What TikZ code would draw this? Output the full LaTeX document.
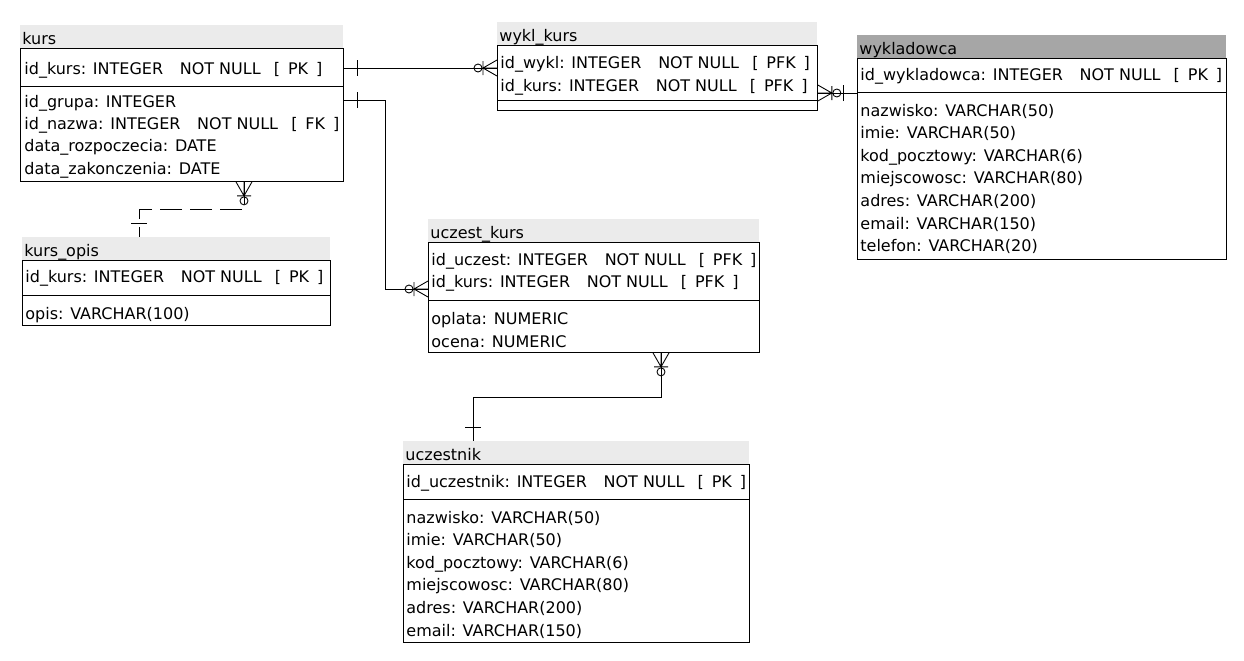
\documentclass[tikz,border=0pt]{standalone}
\usepackage{fontspec}
\setmainfont{DejaVu Sans}
\usetikzlibrary{positioning}

\definecolor{jasny}{HTML}{EBEBEB}
\definecolor{ciemny}{HTML}{A6A6A6}
\newcommand{\nnk}[1]{\hspace{9.5pt}NOT NULL\hspace{7.5pt}[\hspace{4.5pt}#1\hspace{4.5pt}]}

\begin{document}
\begin{tikzpicture}[
  x=0.02cm, y=-0.02cm, line width=0.5pt,
  tabela/.style={draw, anchor=north west, inner sep=0pt},
  naglowek/.style={fill=#1, anchor=north west, inner sep=0pt, minimum height=0.46cm},
  pole/.style={anchor=base west, inner sep=0pt, font=\fontsize{9.1}{11}\selectfont},
  rel/.style={line width=0.5pt},
  przerywana/.style={dash pattern=on 0.44cm off 0.16cm},
  pics/wiele/.style={code={
    \draw (0,-8) -- (14,0) -- (0,8) (0,0) -- (14,0) (14,-7) -- (14,7);
    \draw (19,0) circle[radius=0.08cm];
  }},
  pics/jeden/.style={code={\draw (14,-8) -- (14,8);}},
]
\useasboundingbox (0,0) rectangle (1244,660);

% kurs
\node[naglowek=jasny, minimum width=6.46cm] (kurs-h) at (20,25) {};
\node[tabela, minimum width=6.46cm, minimum height=2.66cm] (kurs) at (20,48) {};
\draw (20,86) -- (343,86);
\node[pole] at (22,44) {kurs};
\node[pole] at (24,74) {id\_kurs: INTEGER\nnk{PK}};
\foreach \t [count=\i from 0] in {id\_grupa: INTEGER, id\_nazwa: INTEGER\nnk{FK},
    data\_rozpoczecia: DATE, data\_zakonczenia: DATE}
  \node[pole] at (24,107+22.4*\i) {\t};

% wykl_kurs
\node[naglowek=jasny, minimum width=6.40cm] (wyklk-h) at (497,22) {};
\node[tabela, minimum width=6.40cm, minimum height=1.30cm] (wyklk) at (497,45) {};
\draw (497,100) -- (817,100);
\node[pole] at (499,41) {wykl\_kurs};
\node[pole] at (500,68) {id\_wykl: INTEGER\nnk{PFK}};
\node[pole] at (500,91) {id\_kurs: INTEGER\nnk{PFK}};

% wykladowca
\node[naglowek=ciemny, minimum width=7.38cm] (wykl-h) at (857,35) {};
\node[tabela, minimum width=7.38cm, minimum height=4.02cm] (wykl) at (857,58) {};
\draw (857,92) -- (1226,92);
\node[pole] at (859,54) {wykladowca};
\node[pole] at (860,80) {id\_wykladowca: INTEGER\nnk{PK}};
\foreach \t [count=\i from 0] in {nazwisko: VARCHAR(50), imie: VARCHAR(50),
    kod\_pocztowy: VARCHAR(6), miejscowosc: VARCHAR(80), adres: VARCHAR(200),
    email: VARCHAR(150), telefon: VARCHAR(20)}
  \node[pole] at (860,116+22.6*\i) {\t};

% kurs_opis
\node[naglowek=jasny, minimum width=6.16cm] (kopis-h) at (22,237) {};
\node[tabela, minimum width=6.16cm, minimum height=1.30cm] (kopis) at (22,260) {};
\draw (22,295) -- (330,295);
\node[pole] at (24,256) {kurs\_opis};
\node[pole] at (25,282) {id\_kurs: INTEGER\nnk{PK}};
\node[pole] at (25,319) {opis: VARCHAR(100)};

% uczest_kurs
\node[naglowek=jasny, minimum width=6.62cm] (uczk-h) at (428,219) {};
\node[tabela, minimum width=6.62cm, minimum height=2.20cm] (uczk) at (428,242) {};
\draw (428,300) -- (759,300);
\node[pole] at (430,238) {uczest\_kurs};
\node[pole] at (431,265) {id\_uczest: INTEGER\nnk{PFK}};
\node[pole] at (431,287) {id\_kurs: INTEGER\nnk{PFK}};
\node[pole] at (431,324) {oplata: NUMERIC};
\node[pole] at (431,347) {ocena: NUMERIC};

% uczestnik
\node[naglowek=jasny, minimum width=6.92cm] (ucz-h) at (403,441) {};
\node[tabela, minimum width=6.92cm, minimum height=3.56cm] (ucz) at (403,464) {};
\draw (403,499) -- (749,499);
\node[pole] at (405,460) {uczestnik};
\node[pole] at (406,487) {id\_uczestnik: INTEGER\nnk{PK}};
\foreach \t [count=\i from 0] in {nazwisko: VARCHAR(50), imie: VARCHAR(50),
    kod\_pocztowy: VARCHAR(6), miejscowosc: VARCHAR(80), adres: VARCHAR(200),
    email: VARCHAR(150)}
  \node[pole] at (406,523+22.6*\i) {\t};

% relacje
\draw[rel] (kurs.east |- 0,68) pic {jeden} -- (wyklk.west |- 0,68) pic[rotate=180] {wiele};
\draw[rel] (kurs.east |- 0,100) pic {jeden} -| (385,289) -- (uczk.west |- 0,289) pic[rotate=180] {wiele};
\draw[rel] (wyklk.east |- 0,93) pic {wiele} -- (wykl.west |- 0,93) pic[rotate=180] {jeden};
\draw[rel, przerywana] (kurs.south -| 244,0) -- ++(0,28) -| (kopis-h.north -| 139,0);
\path (kurs.south -| 244,0) pic[rotate=-90] {wiele} (kopis-h.north -| 139,0) pic[rotate=90] {jeden};
\draw[rel] (uczk.south -| 661,0) pic[rotate=-90] {wiele} -- ++(0,45) -| (ucz-h.north -| 473,0) pic[rotate=90] {jeden};
\end{tikzpicture}
\end{document}
